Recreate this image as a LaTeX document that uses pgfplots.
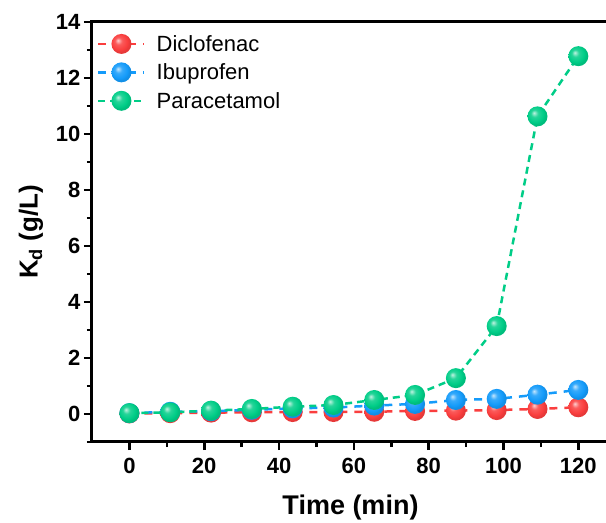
\documentclass[border=0pt]{standalone}
\usepackage{fontspec}
\setmainfont{Liberation Sans}
\usepackage{pgfplots}
\pgfplotsset{compat=1.18}
\definecolor{cred}{RGB}{250,62,62}
\definecolor{cblue}{RGB}{20,155,250}
\definecolor{cgreen}{RGB}{0,205,135}
\pgfdeclareradialshading{rsh}{\pgfqpoint{-9bp}{9bp}}{color(0bp)=(cred!25!white); color(9bp)=(cred!85!white); color(20bp)=(cred); color(25bp)=(cred!92!black); color(50bp)=(cred!92!black)}
\pgfdeclareradialshading{bsh}{\pgfqpoint{-9bp}{9bp}}{color(0bp)=(cblue!25!white); color(9bp)=(cblue!85!white); color(20bp)=(cblue); color(25bp)=(cblue!92!black); color(50bp)=(cblue!92!black)}
\pgfdeclareradialshading{gsh}{\pgfqpoint{-9bp}{9bp}}{color(0bp)=(cgreen!25!white); color(9bp)=(cgreen!85!white); color(20bp)=(cgreen); color(25bp)=(cgreen!92!black); color(50bp)=(cgreen!92!black)}
\pgfdeclareplotmark{rball}{\pgfpathcircle{\pgfpointorigin}{\pgfplotmarksize}\pgfshadepath{rsh}{0}\pgfusepath{}}
\pgfdeclareplotmark{bball}{\pgfpathcircle{\pgfpointorigin}{\pgfplotmarksize}\pgfshadepath{bsh}{0}\pgfusepath{}}
\pgfdeclareplotmark{gball}{\pgfpathcircle{\pgfpointorigin}{\pgfplotmarksize}\pgfshadepath{gsh}{0}\pgfusepath{}}
\begin{document}
\begin{tikzpicture}
\begin{axis}[name=ax,
  scale only axis, width=517pt, height=420pt,
  xmin=-10, xmax=128.2, ymin=-1, ymax=14,
  axis line style={line width=3pt},
  every tick/.style={line width=2.6pt, black},
  tick align=outside, major tick length=8pt, minor tick length=5pt,
  xtick={0,20,...,120}, minor xtick={10,30,...,110},
  ytick={0,2,...,14}, minor ytick={-1,1,...,13},
  xtick pos=bottom, ytick pos=left,
  tick label style={font=\fontsize{22}{26}\selectfont\bfseries},
  xticklabel style={yshift=-5pt},
  /pgf/number format/assume math mode=true,
  xlabel={\fontsize{27}{30}\selectfont\bfseries Time (min)},
  ylabel={\fontsize{26}{30}\selectfont\bfseries K\textsubscript{d} (g/L)},
  xlabel style={yshift=-14pt},
  ylabel style={yshift=6pt},
  legend style={at={(0,1)}, anchor=north west, draw=none, fill=none,
    font=\fontsize{22}{24}\selectfont, xshift=3pt, yshift=-9pt,
    row sep=7pt, inner sep=2pt, column sep=9pt},
  legend cell align=left,
  legend image code/.code={\draw[mark repeat=2,mark phase=2] plot coordinates {(0pt,0pt)(23pt,0pt)(46pt,0pt)};},
  mark size=10pt,
]
\addplot[cred, line width=2.5pt, dash pattern=on 8pt off 7pt, mark=rball, mark options={solid}] coordinates {
(0,0.02) (10.91,0.03) (21.82,0.05) (32.73,0.06) (43.64,0.07) (54.55,0.07) (65.45,0.08) (76.36,0.11) (87.27,0.12) (98.18,0.14) (109.09,0.18) (120,0.24)};
\addlegendentry{Diclofenac}
\addplot[cblue, line width=2.5pt, dash pattern=on 8pt off 7pt, mark=bball, mark options={solid}] coordinates {
(0,0.03) (10.91,0.08) (21.82,0.10) (32.73,0.15) (43.64,0.20) (54.55,0.23) (65.45,0.30) (76.36,0.36) (87.27,0.50) (98.18,0.54) (109.09,0.69) (120,0.86)};
\addlegendentry{Ibuprofen}
\addplot[cgreen, line width=2.5pt, dash pattern=on 7pt off 5pt, mark=gball, mark options={solid}] coordinates {
(0,0.03) (10.91,0.06) (21.82,0.12) (32.73,0.18) (43.64,0.26) (54.55,0.32) (65.45,0.50) (76.36,0.68) (87.27,1.28) (98.18,3.14) (109.09,10.63) (120,12.78)};
\addlegendentry{Paracetamol}
\end{axis}
\pgfresetboundingbox
\path ([xshift=-92pt,yshift=-81pt]ax.south west) rectangle ([xshift=-3pt,yshift=22pt]ax.north east);
\end{tikzpicture}
\end{document}
